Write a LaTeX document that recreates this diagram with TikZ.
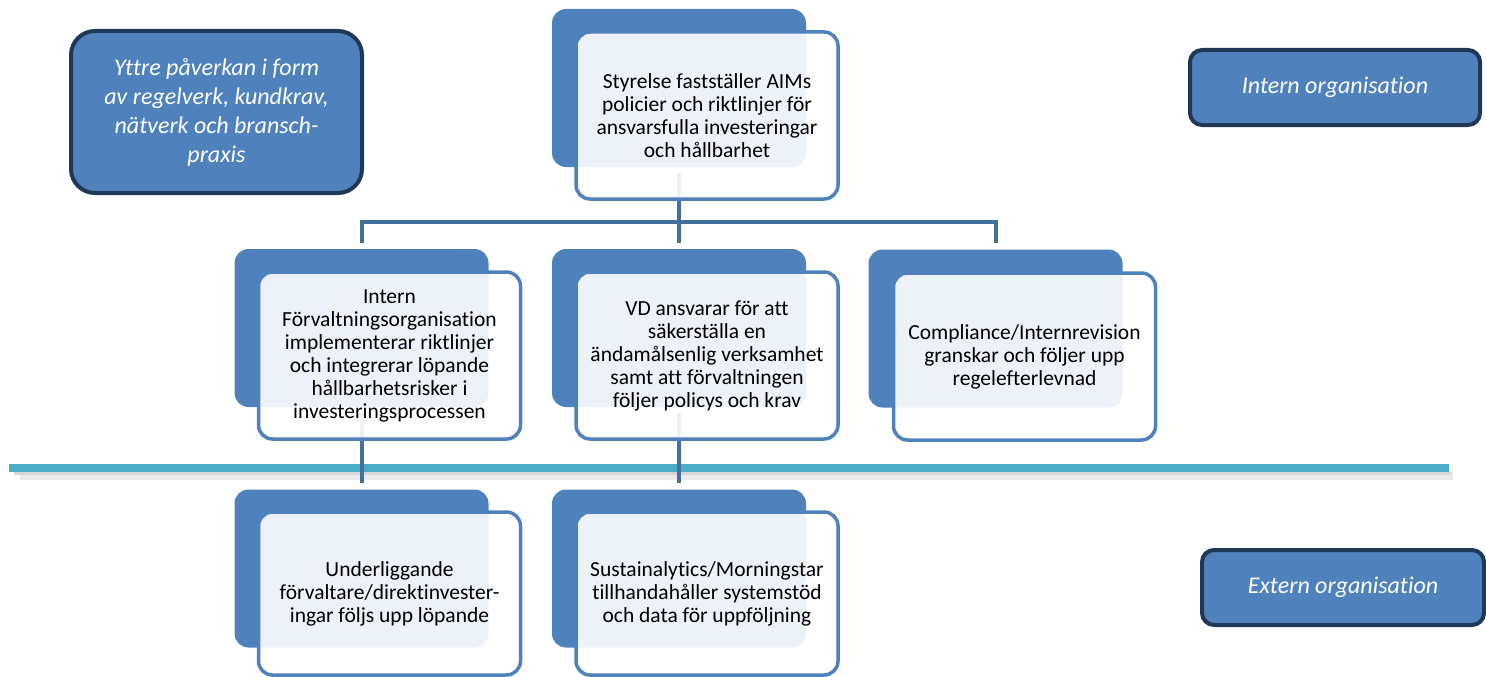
\documentclass[tikz,border=0pt]{standalone}
\usepackage{fontspec}
\setmainfont{Carlito}[Ligatures=NoCommon]
\usetikzlibrary{positioning,calc}

\definecolor{cardblue}{HTML}{4F81BD}
\definecolor{linkblue}{HTML}{41719C}
\definecolor{tagnavy}{HTML}{1F3858}
\definecolor{divteal}{HTML}{4BACC6}

\pgfdeclarelayer{back}
\pgfdeclarelayer{lines}
\pgfsetlayers{back,lines,main}

\begin{document}
\begin{tikzpicture}[x=1pt,y=-1pt,
% Card styles
		cardback/.style={rectangle
							    , rounded corners=14pt
							    , fill=cardblue
							    , minimum width=254pt
							    , minimum height=158pt},
		cardfront/.style={rectangle
							    , rounded corners=14pt
							    , fill=white, fill opacity=0.9, text opacity=1
							    , draw=cardblue, line width=3.5pt
							    , minimum width=262pt
							    , minimum height=167pt
							    , align=center
							    , font=\fontsize{21.5}{23}\selectfont},
% Side labels
		tagbox/.style={rectangle
							    , rounded corners=12pt
							    , fill=cardblue
							    , draw=tagnavy, line width=4pt
							    , text=white
							    , align=center
							    , font=\itshape\fontsize{24}{29}\selectfont},
% Connectors
		link/.style={draw=linkblue, line width=4pt},
		divider/.style={draw=divteal, line width=8pt}
	]
	\useasboundingbox (0,0) rectangle (1486,677);
%% Back cards
	\begin{pgfonlayer}{back}
		\node [cardback] (s0b) at (679,88) {};
		\node [cardback] (s1b) at (361.5,328) {};
		\node [cardback] (s2b) at (679,328) {};
		\node [cardback] (s3b) at (995.5,328.5) {};
		\node [cardback] (s4b) at (361.5,568.5) {};
		\node [cardback] (s5b) at (679,568.5) {};
		% divider between intern and extern
		\draw [black!8, line width=8pt] (20,476) -- (1453,476);
		\draw [black!16, line width=3pt] (14,473) -- (1451,473);
		\draw [divider] (9,468) -- (1449,468);
	\end{pgfonlayer}
%% Connectors
	\begin{pgfonlayer}{lines}
		\coordinate (bus) at (679,222);
		\draw [link] ([yshift=-6pt]s0b.south) -- (bus);
		\foreach \c in {s1b,s2b,s3b}
			\draw [link] (bus) -| ([yshift=6pt]\c.north);
		\draw [link] ([yshift=-6pt]s1b.south) -- ([yshift=6pt]s4b.north);
		\draw [link] ([yshift=-6pt]s2b.south) -- ([yshift=6pt]s5b.north);
	\end{pgfonlayer}
%% Front cards
	\node [cardfront] (s0) at ([shift={(28,27.5)}]s0b) {Styrelse fastställer AIMs\\policier och riktlinjer för\\ansvarsfulla investeringar\\och hållbarhet};
	\node [cardfront] (s1) at ([shift={(28,27.5)}]s1b) {Intern\\Förvaltningsorganisation\\implementerar riktlinjer\\och integrerar löpande\\hållbarhetsrisker i\\investeringsprocessen};
	\node [cardfront] (s2) at ([shift={(28,27.5)}]s2b) {VD ansvarar för att\\säkerställa en\\ändamålsenlig verksamhet\\samt att förvaltningen\\följer policys och krav};
	\node [cardfront] (s3) at ([shift={(29,28)}]s3b) {Compliance/Internrevision\\granskar och följer upp\\regelefterlevnad};
	\node [cardfront, minimum height=163pt] (s4) at ([shift={(28,25)}]s4b) {Underliggande\\förvaltare/direktinvester-\\ingar följs upp löpande};
	\node [cardfront, minimum height=163pt] (s5) at ([shift={(28,25)}]s5b) {Sustainalytics/Morningstar\\tillhandahåller systemstöd\\och data för uppföljning};
%% Side labels
	\node [tagbox, rounded corners=24pt, minimum width=291pt, minimum height=162pt] (yttre) at (216.5,112) {Yttre påverkan i form\\av regelverk, kundkrav,\\nätverk och bransch-\\praxis};
	\node [tagbox, minimum width=290pt, minimum height=75pt] (intern) at (1335,87.5) {Intern organisation};
	\node [tagbox, minimum width=282pt, minimum height=75pt] (extern) at (1343,587.5) {Extern organisation};
\end{tikzpicture}
\end{document}
